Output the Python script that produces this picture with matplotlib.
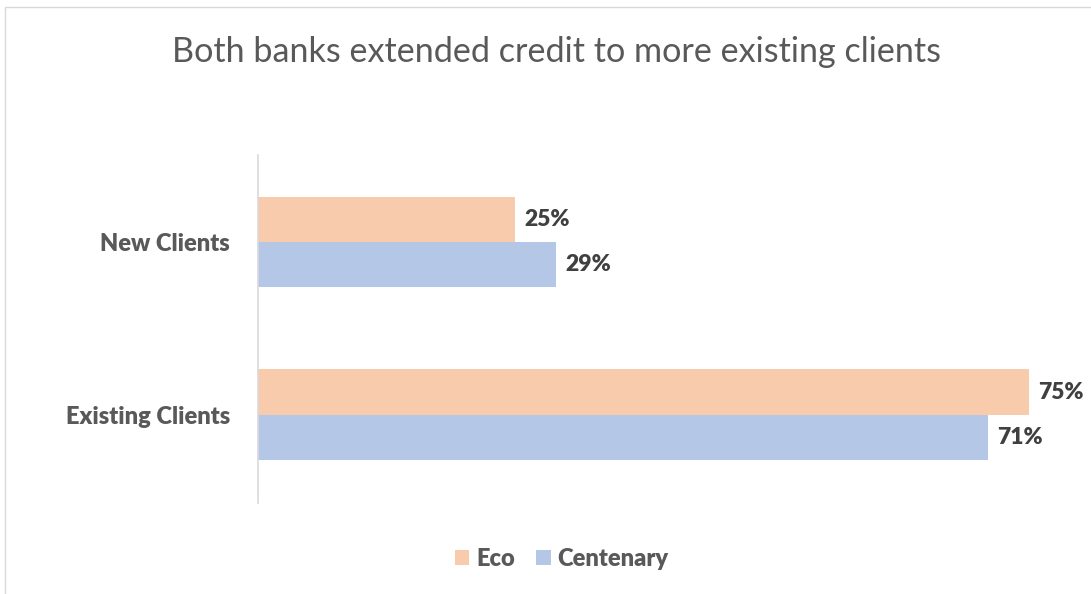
import numpy as np
import matplotlib.pyplot as plt
from matplotlib.patches import Rectangle

categories = ['New Clients', 'Existing Clients']
eco = [25, 75]
centenary = [29, 71]
series_names = ['Eco', 'Centenary']
colors = ['#F8CBAD', '#B4C7E7']

plt.rcParams['font.family'] = ['Lato', 'DejaVu Sans']

fig = plt.figure(figsize=(10.91, 5.94), dpi=100)
ax = fig.add_axes([258 / 1091, 1 - 503 / 594, 822 / 1091, 348 / 594])

y = np.arange(len(categories))
h = 0.263
b1 = ax.barh(y - h / 2, eco, height=h, color=colors[0], label=series_names[0])
b2 = ax.barh(y + h / 2, centenary, height=h, color=colors[1], label=series_names[1])

for bars in (b1, b2):
    for rect in bars:
        v = rect.get_width()
        ax.text(v + 0.9, rect.get_y() + rect.get_height() / 2, f'{v:.0f}%',
                va='center', ha='left', fontsize=16.5, fontweight='heavy',
                color='#404040', clip_on=False)

ax.set_xlim(0, 80)
ax.set_ylim(1.509, -0.503)
ax.set_yticks(y)
ax.set_yticklabels(categories, fontsize=17, fontweight='heavy', color='#595959')
ax.tick_params(axis='y', length=0, pad=20)
ax.set_xticks([])
for s in ['top', 'right', 'bottom']:
    ax.spines[s].set_visible(False)
ax.spines['left'].set_color('#D9D9D9')
ax.spines['left'].set_linewidth(1.2)

fig.text(557 / 1091, 1 - 52 / 594, 'Both banks extended credit to more existing clients',
         ha='center', va='center', fontsize=24.6, color='#595959')

leg = fig.legend(loc='center', bbox_to_anchor=(562 / 1091, 1 - 559 / 594), ncol=2,
                 frameon=False, fontsize=17, handlelength=0.6, handleheight=0.6,
                 handletextpad=0.3, columnspacing=0.9)
for t in leg.get_texts():
    t.set_fontweight('heavy')
    t.set_color('#595959')

fig.patches.append(Rectangle((5 / 1091, -0.05), 1.1, 1 - 7 / 594 + 0.05,
                             transform=fig.transFigure, fill=False,
                             edgecolor='#D9D9D9', linewidth=1))

fig.savefig('out.png', dpi=100)
